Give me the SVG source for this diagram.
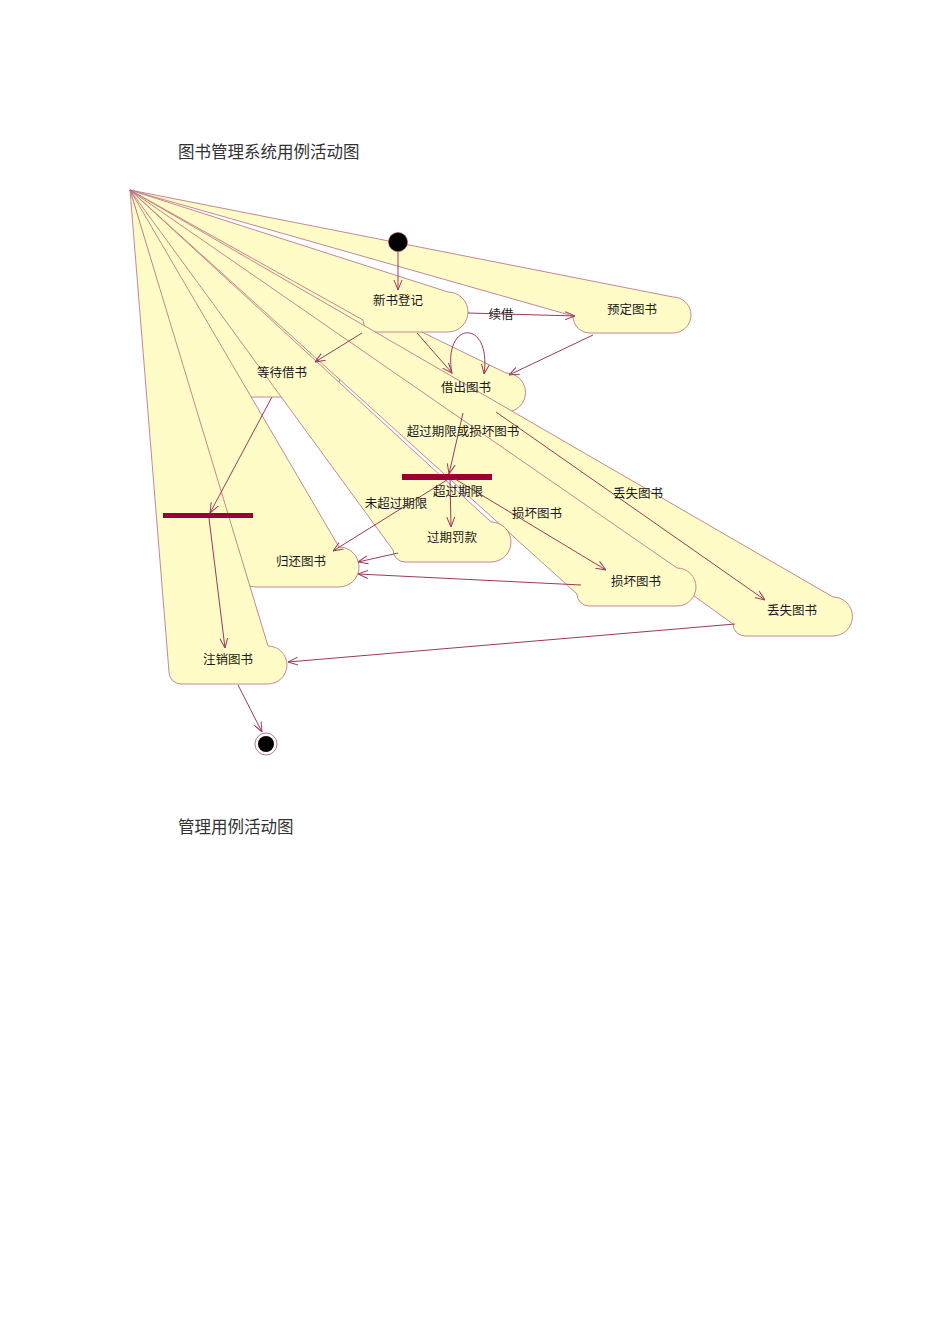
<svg xmlns="http://www.w3.org/2000/svg" width="950" height="1344" viewBox="0 0 950 1344">
<defs>
<style>
.node{fill:#fffcc8;stroke:#b46a80;stroke-width:0.8}
.lbl{font-family:"Noto Sans CJK SC","Noto Sans",sans-serif;font-size:12.5px;fill:#1a1a1a;text-anchor:middle}
.title{font-family:"Liberation Serif","Noto Sans CJK SC",serif;font-size:16.5px;fill:#333}
.edge{fill:none;stroke:#9a3a5c;stroke-width:1}
.bar{fill:#990033}
</style>
<marker id="arr" viewBox="0 0 10 10" refX="10" refY="5" markerWidth="10" markerHeight="10" markerUnits="userSpaceOnUse" orient="auto">
<path d="M0,1 L10,5 L0,9" fill="none" stroke="#9a3a5c" stroke-width="1"/>
</marker>
</defs>
<rect width="950" height="1344" fill="#ffffff"/>
<text class="title" x="178" y="158">图书管理系统用例活动图</text>
<text class="title" x="178" y="833">管理用例活动图</text>

<g id="n-yuding"><path class="node" d="M130,190 L673,297 A18,18 0 0 1 673,333 L590,333 A17,17 0 0 1 573,316 Z"/></g>
<g id="n-dengdai"><path class="node" d="M130,190 L320,357 A20,20 0 0 1 320,397 L236,397 A12,12 0 0 1 224,385 Z"/></g>
<g id="n-jiechu"><path class="node" d="M130,190 L506,373 A19.5,19.5 0 0 1 506,412 L419,412 A12,12 0 0 1 407,400 Z"/></g>
<g id="n-xinshu"><path class="node" d="M130,190 L448,292 A20,20 0 0 1 448,332 L375,332 A12,12 0 0 1 363,320 Z"/></g>
<g id="n-diushi"><path class="node" d="M130,190 L833,597 A19.5,19.5 0 0 1 833,636 L745,636 A12,12 0 0 1 733,624 Z"/></g>
<g id="n-sunhuai"><path class="node" d="M130,190 L677,568 A19,19 0 0 1 677,606 L589,606 A12,12 0 0 1 577,594 Z"/></g>
<g id="n-guoqi"><path class="node" d="M130,190 L491,522 A20,20 0 0 1 491,562 L405,562 A12,12 0 0 1 393,550 Z"/></g>
<g id="n-guihuan"><path class="node" d="M130,190 L339,547 A20,20 0 0 1 339,587 L255,587 A12,12 0 0 1 243,575 Z"/></g>
<g id="n-zhuxiao"><path class="node" d="M130,190 L268,646 A19,19 0 0 1 268,684 L181,684 A12,12 0 0 1 169,672 Z"/></g>

<g id="node-labels">
<text class="lbl" x="632" y="313.5">预定图书</text>
<text class="lbl" x="282" y="376.5">等待借书</text>
<text class="lbl" x="466" y="391.5">借出图书</text>
<text class="lbl" x="398" y="305">新书登记</text>
<text class="lbl" x="792" y="614.5">丢失图书</text>
<text class="lbl" x="636" y="585.5">损坏图书</text>
<text class="lbl" x="452" y="541.5">过期罚款</text>
<text class="lbl" x="301" y="565.5">归还图书</text>
<text class="lbl" x="228" y="663.5">注销图书</text>
</g>

<g id="start"><circle cx="398" cy="242" r="9.5" fill="#000" stroke="#9a3a5c" stroke-width="0.6"/></g>
<g id="end"><circle cx="266" cy="744" r="11" fill="#fff" stroke="#c07a90" stroke-width="1"/><circle cx="266" cy="744" r="8" fill="#000"/></g>
<g id="bar1"><rect class="bar" x="163" y="513" width="90" height="5"/></g>
<g id="bar2"><rect class="bar" x="402" y="474" width="90" height="6"/></g>

<g id="connectors">
<path class="edge" marker-end="url(#arr)" d="M398,252 L398,290"/>
<path class="edge" marker-end="url(#arr)" d="M468,313 L575,316"/>
<path class="edge" marker-end="url(#arr)" d="M417,333 L452,373"/>
<path class="edge" marker-end="url(#arr)" d="M452,374 C442,320 492,318 484,374"/>
<path class="edge" marker-end="url(#arr)" d="M593,335 L509,375"/>
<path class="edge" marker-end="url(#arr)" d="M362,333 L315,362"/>
<path class="edge" marker-end="url(#arr)" d="M272,397 L210,513"/>
<path class="edge" marker-end="url(#arr)" d="M209,518 L225,648"/>
<path class="edge" marker-end="url(#arr)" d="M463,413 L449,474"/>
<path class="edge" marker-end="url(#arr)" d="M447,480 L333,551"/>
<path class="edge" marker-end="url(#arr)" d="M450,480 L451,527"/>
<path class="edge" marker-end="url(#arr)" d="M455,479 L606,570"/>
<path class="edge" marker-end="url(#arr)" d="M496,412 L765,600"/>
<path class="edge" marker-end="url(#arr)" d="M398,553 L358,562"/>
<path class="edge" marker-end="url(#arr)" d="M581,585 L358,574"/>
<path class="edge" marker-end="url(#arr)" d="M735,624 L288,662"/>
<path class="edge" marker-end="url(#arr)" d="M238,685 L262,732"/>
<text class="lbl" x="501" y="318.5">续借</text>
<text class="lbl" x="463" y="435.5">超过期限或损坏图书</text>
<text class="lbl" x="396" y="507.5">未超过期限</text>
<text class="lbl" x="458" y="495.5">超过期限</text>
<text class="lbl" x="537" y="517.5">损坏图书</text>
<text class="lbl" x="638" y="497.5">丢失图书</text>
</g>
</svg>
